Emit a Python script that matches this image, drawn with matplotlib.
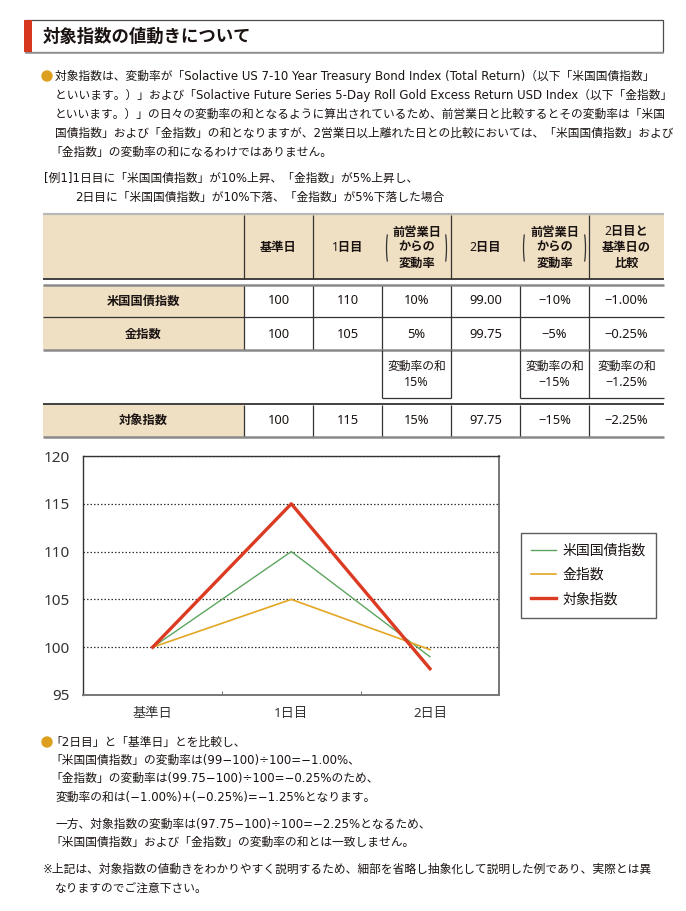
import matplotlib
matplotlib.use("Agg")
import matplotlib.pyplot as plt
from matplotlib.patches import Rectangle, Circle, Arc

FAM = ['Noto Sans', 'Noto Sans CJK JP', 'DejaVu Sans']
BODY = ['DejaVu Sans', 'Noto Sans CJK JP']
plt.rcParams['font.family'] = FAM

# chart data
categories = ['基準日', '1日目', '2日目']
bond = [100, 110, 99.00]
gold = [100, 105, 99.75]
target = [100, 115, 97.75]
series_names = ['米国国債指数', '金指数', '対象指数']

# table data
row_labels = ['米国国債指数', '金指数', '対象指数']
chg_day1 = [10, 5, 15]
chg_day2 = [-10, -5, -15]
chg_total = [-1.00, -0.25, -2.25]
sum_day1 = '15%'
sum_day2 = '−15%'
sum_total = '−1.25%'

title = '対象指数の値動きについて'
para_top = [
    '対象指数は、変動率が「Solactive US 7-10 Year Treasury Bond Index (Total Return)（以下「米国国債指数」',
    'といいます。）」および「Solactive Future Series 5-Day Roll Gold Excess Return USD Index（以下「金指数」',
    'といいます。）」の日々の変動率の和となるように算出されているため、前営業日と比較するとその変動率は「米国',
    '国債指数」および「金指数」の和となりますが、2営業日以上離れた日との比較においては、「米国国債指数」および',
    '「金指数」の変動率の和になるわけではありません。',
]
example = [
    '[例1]1日目に「米国国債指数」が10%上昇、「金指数」が5%上昇し、',
    '2日目に「米国国債指数」が10%下落、「金指数」が5%下落した場合',
]
para_bottom = [
    '「2日目」と「基準日」とを比較し、',
    '「米国国債指数」の変動率は(99−100)÷100=−1.00%、',
    '「金指数」の変動率は(99.75−100)÷100=−0.25%のため、',
    '変動率の和は(−1.00%)+(−0.25%)=−1.25%となります。',
    '一方、対象指数の変動率は(97.75−100)÷100=−2.25%となるため、',
    '「米国国債指数」および「金指数」の変動率の和とは一致しません。',
]
note = [
    '※上記は、対象指数の値動きをわかりやすく説明するため、細部を省略し抽象化して説明した例であり、実際とは異',
    'なりますのでご注意下さい。',
]

TXT = '#1a1311'
BEIGE = '#EFE0C4'
BULLET = '#DCA01E'
W, H = 686, 911

fig = plt.figure(figsize=(W / 100, H / 100), dpi=100)
bg = fig.add_axes([0, 0, 1, 1])
bg.set_xlim(0, W)
bg.set_ylim(H, 0)
bg.axis('off')


def put(x, y, s, size=8.45, ha='left', **kw):
    bg.text(x, y, s, fontsize=size, ha=ha, va='center', color=TXT, **kw)


def put_line(x, y, s):
    # full-width opening bracket carries blank space on its left
    if s.startswith('「'):
        x -= 5
    put(x, y, s, family=BODY)


def hline(y, x0, x1, color='#333333', lw=1.0):
    bg.plot([x0, x1], [y, y], color=color, lw=lw, solid_capstyle='butt')


def vline(x, y0, y1, color='#333333', lw=0.9):
    bg.plot([x, x], [y0, y1], color=color, lw=lw, solid_capstyle='butt')


# title box
bg.add_patch(Rectangle((25, 20), 638, 32, facecolor='white', edgecolor='#4d4d4d', lw=0.9))
hline(53, 25, 664, color='#9a9a9a', lw=1.2)
bg.add_patch(Rectangle((24, 20), 8, 32, facecolor='#D8371F', edgecolor='none'))
put(43, 37, title, size=12.5, weight='bold')

# top paragraph
bg.add_patch(Circle((47, 76), 5, color=BULLET))
for i, line in enumerate(para_top):
    put_line(55, 76 + i * 19, line)
put(44, 178, example[0], family=BODY)
put(75, 197, example[1], family=BODY)

# table
xs = [43, 244, 313, 382, 451, 520, 589, 664]
mids = [(a + b) / 2 for a, b in zip(xs[:-1], xs[1:])]
bg.add_patch(Rectangle((43, 214), 621, 65, facecolor=BEIGE, edgecolor='none'))
for y0, y1 in [(285, 317), (317, 350), (404, 437)]:
    bg.add_patch(Rectangle((43, y0), 201, y1 - y0, facecolor=BEIGE, edgecolor='none'))

hline(214, 43, 664, color='#b8b8b8', lw=1.6)
hline(279, 43, 664, color='#333333', lw=1.3)
hline(285, 43, 664, color='#8a8a8a', lw=1.8)
hline(317, 43, 664, color='#333333', lw=0.9)
hline(350, 43, 664, color='#8a8a8a', lw=1.8)
hline(404, 43, 664, color='#333333', lw=1.3)
hline(437, 43, 664, color='#8a8a8a', lw=1.8)
for x in [244, 313, 451, 589]:
    vline(x, 215, 279)
for x in xs[1:-1]:
    vline(x, 286, 349)
    vline(x, 405, 436)
for x in [382, 451, 520, 589]:
    vline(x, 350, 398)
hline(398, 382, 451, lw=0.9)
hline(398, 520, 664, lw=0.9)

# header texts
hsize = 8.8
put(mids[1], 247, '基準日', size=hsize, ha='center', weight='bold')
put(mids[2], 247, '1日目', size=hsize, ha='center', weight='bold')
put(mids[4], 247, '2日目', size=hsize, ha='center', weight='bold')
for cx in (mids[3], mids[5]):
    for j, s in enumerate(['前営業日', 'からの', '変動率']):
        put(cx, 232 + j * 15.5, s, size=hsize, ha='center', weight='bold')
for j, s in enumerate(['2日目と', '基準日の', '比較']):
    put(mids[6], 232 + j * 15.5, s, size=hsize, ha='center', weight='bold')
for xl, xr in [(387, 446), (524, 585)]:
    bg.add_patch(Arc((xl + 4, 248), 9, 46, theta1=105, theta2=255, color='#333333', lw=0.9))
    bg.add_patch(Arc((xr - 4, 248), 9, 46, theta1=-75, theta2=75, color='#333333', lw=0.9))


def pct(v, fmt='{:.0f}%'):
    return fmt.format(v).replace('-', '−')


series = [bond, gold, target]
row_y = [301, 334, 420]
for r in range(3):
    vals = series[r]
    cells = ['{:.0f}'.format(vals[0]), '{:.0f}'.format(vals[1]), pct(chg_day1[r]),
             '{:.2f}'.format(vals[2]), pct(chg_day2[r]), pct(chg_total[r], '{:.2f}%')]
    put(mids[0], row_y[r], row_labels[r], size=hsize, ha='center', weight='bold')
    for c, s in enumerate(cells):
        put(mids[c + 1], row_y[r], s, size=9.3, ha='center')

for cx, s in [(mids[3], sum_day1), (mids[5], sum_day2), (mids[6], sum_total)]:
    put(cx, 366, '変動率の和', size=8.5, ha='center')
    put(cx, 383, s, size=9.0, ha='center')

# chart
ax = fig.add_axes([83.3 / W, 1 - 695 / H, 416 / W, 239 / H])
x = range(len(categories))
ax.plot(x, bond, color='#5DA55F', lw=1.0, label=series_names[0])
ax.plot(x, gold, color='#E2A623', lw=1.2, label=series_names[1])
ax.plot(x, target, color='#DB3B22', lw=2.4, label=series_names[2])
ax.set_xlim(-0.5, 2.5)
ax.set_ylim(95, 120)
ax.set_yticks([95, 100, 105, 110, 115, 120])
ax.set_xticks(list(x))
ax.set_xticklabels(categories)
ax.set_xticks([0.5, 1.5], minor=True)
ax.set_axisbelow(True)
ax.grid(axis='y', linestyle=(0, (1.2, 1.6)), color='#333333', lw=0.9)
ax.tick_params(axis='both', length=0, colors='#333333')
ax.tick_params(axis='y', labelsize=11, pad=10)
ax.tick_params(axis='x', labelsize=9.5, pad=9)
ax.tick_params(axis='x', which='minor', direction='in', length=3, color='#555555')
for side in ['left', 'top']:
    ax.spines[side].set_color('#333333')
    ax.spines[side].set_linewidth(1.0)
for side in ['right', 'bottom']:
    ax.spines[side].set_color('#777777')
    ax.spines[side].set_linewidth(1.4)

leg = ax.legend(loc='upper left', bbox_to_anchor=(521 / W, 1 - 533 / H),
                bbox_transform=fig.transFigure, frameon=True, fancybox=False,
                edgecolor='#333333', handlelength=1.8, handletextpad=0.45,
                labelspacing=0.68, borderpad=0.75, fontsize=10, borderaxespad=0)
leg.get_frame().set_linewidth(1.0)
for t in leg.get_texts():
    t.set_color(TXT)

# bottom text
bg.add_patch(Circle((47, 742), 5, color=BULLET))
bottom_y = [742, 760, 778.5, 797.5, 824, 842.5]
for y, line in zip(bottom_y, para_bottom):
    put_line(55, y, line)
put(43, 869, note[0], family=BODY)
put(55, 888, note[1], family=BODY)

fig.savefig('out.png', dpi=100)
